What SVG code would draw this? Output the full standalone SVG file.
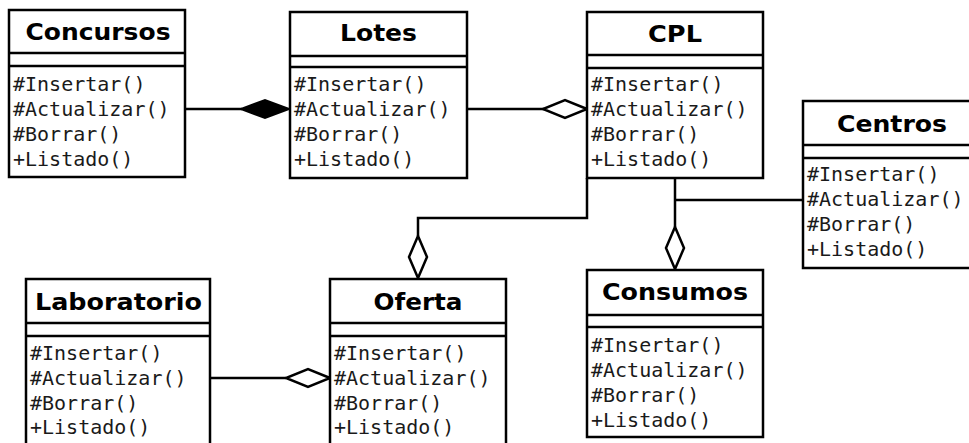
<svg xmlns="http://www.w3.org/2000/svg" width="969" height="443" viewBox="0 0 969 443">
<style>
.box{fill:#fff;stroke:#000;stroke-width:2.5}
.sep{stroke:#000;stroke-width:2.5}
.title{font-family:"DejaVu Sans",sans-serif;font-weight:bold;font-size:23px;fill:#000;text-anchor:middle}
.m{font-family:"DejaVu Sans Mono",monospace;font-size:20px;fill:#1a1a1a}
.conn{fill:none;stroke:#000;stroke-width:2.5}
.hollow{fill:#fff;stroke:#000;stroke-width:2.5}
.filled{fill:#000;stroke:#000;stroke-width:2}
</style>
<rect width="969" height="443" fill="#fff"/>
<g id="connectors">
<line class="conn" x1="185" y1="109" x2="242" y2="109"/>
<polygon class="filled" points="289,109 265,100 241,109 265,118"/>
<line class="conn" x1="467" y1="109" x2="544" y2="109"/>
<polygon class="hollow" points="587,109 565,100 543,109 565,118"/>
<polyline class="conn" points="587,178 587,218 418,218 418,236"/>
<polygon class="hollow" points="418,278 409,257 418,236 427,257"/>
<line class="conn" x1="675" y1="178" x2="675" y2="227"/>
<polygon class="hollow" points="675,269 666,248 675,227 684,248"/>
<line class="conn" x1="675" y1="200" x2="803" y2="200"/>
<line class="conn" x1="210" y1="378" x2="286" y2="378"/>
<polygon class="hollow" points="330,378 308,369 286,378 308,387"/>
</g>
<g id="Concursos">
<rect class="box" x="9" y="10" width="176" height="167"/>
<line class="sep" x1="9" y1="53" x2="185" y2="53"/>
<line class="sep" x1="9" y1="66" x2="185" y2="66"/>
<text class="title" x="98" y="40" textLength="145" lengthAdjust="spacingAndGlyphs">Concursos</text>
<text class="m" x="13" y="91">#Insertar()</text>
<text class="m" x="13" y="116">#Actualizar()</text>
<text class="m" x="13" y="141">#Borrar()</text>
<text class="m" x="13" y="166">+Listado()</text>
</g>
<g id="Lotes">
<rect class="box" x="290" y="12" width="177" height="166"/>
<line class="sep" x1="290" y1="56" x2="467" y2="56"/>
<line class="sep" x1="290" y1="67" x2="467" y2="67"/>
<text class="title" x="378.5" y="41" textLength="77" lengthAdjust="spacingAndGlyphs">Lotes</text>
<text class="m" x="294" y="91">#Insertar()</text>
<text class="m" x="294" y="116">#Actualizar()</text>
<text class="m" x="294" y="141">#Borrar()</text>
<text class="m" x="294" y="166">+Listado()</text>
</g>
<g id="CPL">
<rect class="box" x="587" y="12" width="176" height="166"/>
<line class="sep" x1="587" y1="55" x2="763" y2="55"/>
<line class="sep" x1="587" y1="68" x2="763" y2="68"/>
<text class="title" x="675" y="42" textLength="54" lengthAdjust="spacingAndGlyphs">CPL</text>
<text class="m" x="591" y="91">#Insertar()</text>
<text class="m" x="591" y="116">#Actualizar()</text>
<text class="m" x="591" y="141">#Borrar()</text>
<text class="m" x="591" y="166">+Listado()</text>
</g>
<g id="Centros">
<rect class="box" x="803" y="101" width="178" height="167"/>
<line class="sep" x1="803" y1="145" x2="981" y2="145"/>
<line class="sep" x1="803" y1="158" x2="981" y2="158"/>
<text class="title" x="892" y="132" textLength="110" lengthAdjust="spacingAndGlyphs">Centros</text>
<text class="m" x="807" y="181">#Insertar()</text>
<text class="m" x="807" y="206">#Actualizar()</text>
<text class="m" x="807" y="231">#Borrar()</text>
<text class="m" x="807" y="256">+Listado()</text>
</g>
<g id="Laboratorio">
<rect class="box" x="26" y="279" width="184" height="180"/>
<line class="sep" x1="26" y1="323" x2="210" y2="323"/>
<line class="sep" x1="26" y1="336" x2="210" y2="336"/>
<text class="title" x="118.5" y="310" textLength="167" lengthAdjust="spacingAndGlyphs">Laboratorio</text>
<text class="m" x="30" y="360">#Insertar()</text>
<text class="m" x="30" y="385">#Actualizar()</text>
<text class="m" x="30" y="410">#Borrar()</text>
<text class="m" x="30" y="434">+Listado()</text>
</g>
<g id="Oferta">
<rect class="box" x="330" y="279" width="176" height="180"/>
<line class="sep" x1="330" y1="323" x2="506" y2="323"/>
<line class="sep" x1="330" y1="336" x2="506" y2="336"/>
<text class="title" x="418" y="310" textLength="89" lengthAdjust="spacingAndGlyphs">Oferta</text>
<text class="m" x="334" y="360">#Insertar()</text>
<text class="m" x="334" y="385">#Actualizar()</text>
<text class="m" x="334" y="410">#Borrar()</text>
<text class="m" x="334" y="434">+Listado()</text>
</g>
<g id="Consumos">
<rect class="box" x="587" y="270" width="176" height="167"/>
<line class="sep" x1="587" y1="315" x2="763" y2="315"/>
<line class="sep" x1="587" y1="327" x2="763" y2="327"/>
<text class="title" x="675" y="300" textLength="146" lengthAdjust="spacingAndGlyphs">Consumos</text>
<text class="m" x="591" y="352">#Insertar()</text>
<text class="m" x="591" y="377">#Actualizar()</text>
<text class="m" x="591" y="402">#Borrar()</text>
<text class="m" x="591" y="427">+Listado()</text>
</g>
</svg>
